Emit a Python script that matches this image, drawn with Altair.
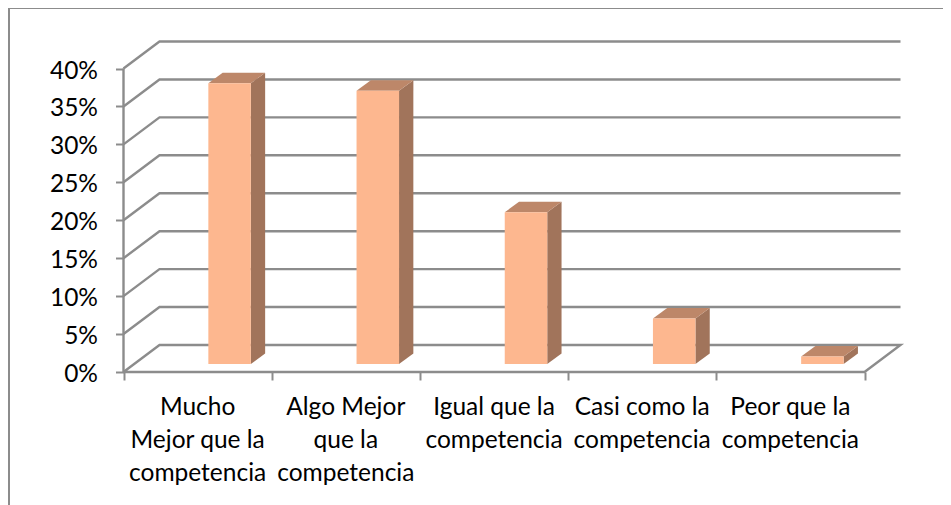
import altair as alt
import pandas as pd

categories = ["Mucho\nMejor que la\ncompetencia", "Algo Mejor\nque la\ncompetencia",
              "Igual que la\ncompetencia", "Casi como la\ncompetencia", "Peor que la\ncompetencia"]
values = [37, 36, 20, 6, 1]
y_ticks = [0, 5, 10, 15, 20, 25, 30, 35, 40]
x_ticks = [0, 1, 2, 3, 4, 5]

W, H = 935, 497
PX_X = 148.2      # px per category
PX_Y = 7.5875     # px per percent
X0, Y0 = 115.5, 364.0   # chart position of the axes' origin
x_dom = [-X0 / PX_X, (W - X0) / PX_X]
y_dom = [-(H - Y0) / PX_Y, Y0 / PX_Y]
xs = alt.Scale(domain=x_dom, nice=False, zero=False)
ys = alt.Scale(domain=y_dom, nice=False, zero=False)

# 3D projection, in scale units
WALL_DX, WALL_DY = 36 / PX_X, 27 / PX_Y
BAR_DX, BAR_DY = 14.3 / PX_X, 10.5 / PX_Y
BAR_L, BAR_W, BAR_BASE = 0.5725, 42.5 / PX_X, 8 / PX_Y

GRID = "#8c8c8c"
FRONT, SIDE, TOP = "#fdb78f", "#a1745b", "#bd8769"
FONT = "Lato"
FS = 24.5

x_axis = alt.Axis(values=x_ticks, labels=False, domain=False, grid=False, tickSize=8,
                  tickColor=GRID, tickWidth=2, offset=-(H - Y0), title=None)
y_axis = alt.Axis(values=y_ticks, labelExpr="datum.value + '%'",
                  domain=False, grid=False, tickSize=8, tickColor=GRID, tickWidth=2,
                  offset=-X0, labelPadding=18, labelOffset=2.5, labelFont=FONT, labelFontSize=FS,
                  labelColor="#000000", title=None)

# walls and gridlines
rows = []
for v in y_ticks:
    pts = [(0, v), (WALL_DX, v + WALL_DY), (5 + WALL_DX, v + WALL_DY)]
    if v == 0:
        pts += [(5, 0), (0, 0)]
    for k, (a, b) in enumerate(pts):
        rows.append({"g": f"w{v}", "k": k, "x": a, "y": b})
rows += [{"g": "axis", "k": 0, "x": 0, "y": 0}, {"g": "axis", "k": 1, "x": 0, "y": 40}]
grid = pd.DataFrame(rows)

faces, sides, tops = [], [], []
for i, v in enumerate(values):
    l, r = i + BAR_L, i + BAR_L + BAR_W
    b, t = BAR_BASE, BAR_BASE + v
    faces.append({"l": l, "r": r, "b": b, "t": t})
    sides += [{"g": i, "x": r, "lo": b, "hi": t},
              {"g": i, "x": r + BAR_DX, "lo": b + BAR_DY, "hi": t + BAR_DY}]
    tops += [{"g": i, "y": t, "a": l, "c": r},
             {"g": i, "y": t + BAR_DY, "a": l + BAR_DX, "c": r + BAR_DX}]


def X(f):
    return alt.X(f, scale=xs, axis=x_axis, stack=None)


def Y(f):
    return alt.Y(f, scale=ys, axis=y_axis, stack=None)


lines = alt.Chart(grid).mark_line(color=GRID, strokeWidth=2.4, strokeJoin="miter").encode(
    x=X("x:Q"), y=Y("y:Q"), detail="g:N", order="k:Q")

side = alt.Chart(pd.DataFrame(sides)).mark_area(color=SIDE, orient="vertical").encode(
    x=X("x:Q"), y=Y("hi:Q"), y2="lo:Q", detail="g:N")

top = alt.Chart(pd.DataFrame(tops)).mark_area(color=TOP, orient="horizontal").encode(
    y=Y("y:Q"), x=X("a:Q"), x2="c:Q", detail="g:N")

front = alt.Chart(pd.DataFrame(faces)).mark_rect(color=FRONT).encode(
    x=X("l:Q"), x2="r:Q", y=Y("b:Q"), y2="t:Q")

labels = alt.Chart(pd.DataFrame({"x": [i + 0.5 for i in range(5)], "c": categories, "y": [-5.7] * 5})
                   ).mark_text(font=FONT, fontSize=FS, lineBreak="\n", lineHeight=32.7, baseline="alphabetic",
                               align="center", color="#000000").encode(
    x=X("x:Q"), y=Y("y:Q"), text="c:N")

frame_top = alt.Chart(pd.DataFrame({"a": [0]})).mark_rule(color=GRID, strokeWidth=1).encode(
    x=alt.value(0), x2=alt.value(W), y=alt.value(0.5))
frame_left = alt.Chart(pd.DataFrame({"a": [0]})).mark_rule(color=GRID, strokeWidth=2).encode(
    x=alt.value(1), y=alt.value(0), y2=alt.value(H))

chart = alt.layer(frame_top, frame_left, lines, side, top, front, labels).properties(
    width=W, height=H, padding=0, autosize=alt.AutoSizeParams(type="none"),
    background="#ffffff"
).configure_view(stroke=None)

chart.save("out.html", embed_options={"renderer": "svg", "actions": False})
